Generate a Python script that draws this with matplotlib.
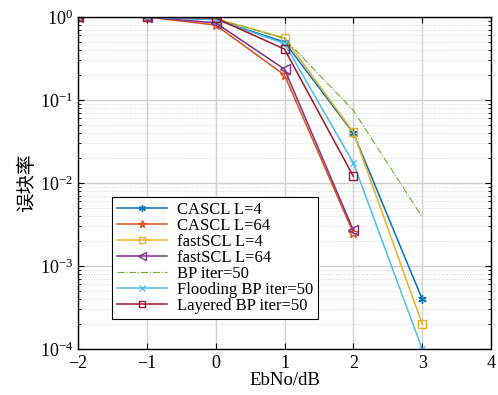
import matplotlib
matplotlib.use("Agg")
import matplotlib.pyplot as plt
import numpy as np

ebno = [-2, -1, 0, 1, 2, 3]
cascl4 = [1.0, 1.0, 0.93, 0.50, 0.040, 4e-4]
cascl64 = [1.0, 1.0, 0.80, 0.20, 0.0025]
fastscl4 = [1.0, 1.0, 0.95, 0.56, 0.041, 2e-4]
fastscl64 = [1.0, 1.0, 0.85, 0.235, 0.0027]
bp50 = [1.0, 1.0, 0.96, 0.55, 0.075, 0.0039]
flood50 = [1.0, 1.0, 0.93, 0.48, 0.0175, 1e-4]
layered50 = [1.0, 1.0, 0.97, 0.41, 0.0120]

plt.rcParams['font.family'] = ['Liberation Serif', 'Noto Sans CJK SC']
plt.rcParams['mathtext.fontset'] = 'stix'

fig = plt.figure(figsize=(4.98, 3.95), dpi=100)
ax = fig.add_axes([78/498, 1-349/395, (491-78)/498, (349-17)/395])

ax.semilogy(ebno, cascl4, color='#0072BD', marker=(6, 2, 0), ms=6, lw=1.1, label='CASCL L=4')
ax.semilogy(ebno[:5], cascl64, color='#D95319', marker='*', ms=7, mfc='none', lw=1.1, label='CASCL L=64')
ax.semilogy(ebno, fastscl4, color='#EDB120', marker='s', ms=6, mfc='none', lw=1.1, label='fastSCL L=4')
ax.semilogy(ebno[:5], fastscl64, color='#7E2F8E', marker='<', ms=7, mfc='none', lw=1.1, label='fastSCL L=64')
ax.semilogy(ebno, bp50, color='#77AC30', ls='-.', lw=0.8, label='BP iter=50')
ax.semilogy(ebno, flood50, color='#4DBEEE', marker='x', ms=5, lw=1.1, label='Flooding BP iter=50')
ax.semilogy(ebno[:5], layered50, color='#A2142F', marker='s', ms=6, mfc='none', lw=1.1, label='Layered BP iter=50')

ax.set_xlim(-2, 4)
ax.set_ylim(1e-4, 1)
ax.set_xticks([-2, -1, 0, 1, 2, 3, 4])
ax.set_xticklabels(['\u22122', '\u22121', '0', '1', '2', '3', '4'])
ax.grid(True, which='major', color='#d0d0d0', lw=1.0)
ax.grid(True, which='minor', axis='y', color='#d8d8d8', lw=0.7, ls=':')
ax.tick_params(which='both', direction='in', top=True, right=True, labelsize=13)
ax.tick_params(which='major', length=4)
ax.tick_params(which='minor', length=2.5)
ax.tick_params(axis='x', pad=4)
for s in ax.spines.values():
    s.set_linewidth(1.0)

ax.set_xlabel('EbNo/dB', fontsize=13.5, labelpad=0)
ax.set_ylabel('误块率', fontsize=14, family=['Noto Sans CJK SC'], labelpad=2)

leg = ax.legend(loc='lower left', bbox_to_anchor=(0.082, 0.09), fontsize=12,
                frameon=True, fancybox=False, edgecolor='black', framealpha=1,
                labelspacing=0.0, handlelength=3.0, handletextpad=0.6,
                borderpad=0.3, borderaxespad=0, markerscale=0.8)
leg.get_frame().set_linewidth(0.8)

fig.savefig('out.png', dpi=100)
